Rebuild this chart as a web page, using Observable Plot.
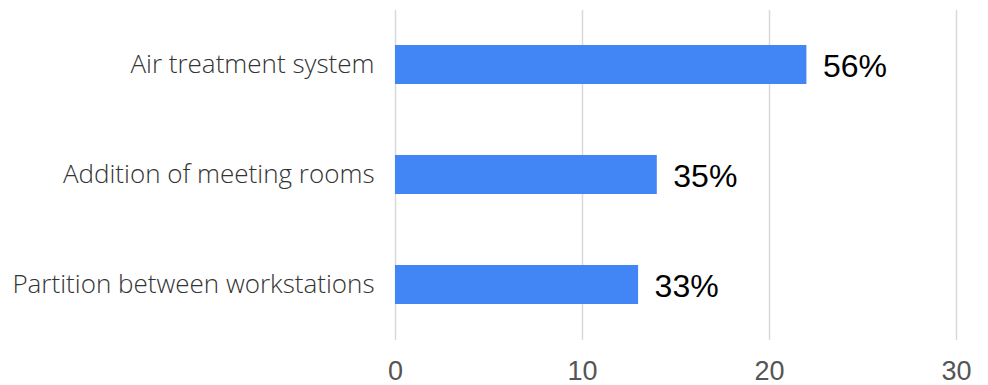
<!DOCTYPE html>
<html>
<head>
<meta charset="utf-8">
<script src="https://cdn.jsdelivr.net/npm/d3@7"></script>
<script src="https://cdn.jsdelivr.net/npm/@observablehq/plot@0.6"></script>
<style>
  html, body { margin: 0; padding: 0; background: #fff; }
  #chart svg { display: block; }
</style>
</head>
<body>
<div id="chart"></div>
<script>
const categories = ["Air treatment system", "Addition of meeting rooms", "Partition between workstations"];
const values = [22, 14, 13];
const valueLabels = ["56%", "35%", "33%"];
const xTicks = [0, 10, 20, 30];

const data = categories.map((c, i) => ({category: c, value: values[i], label: valueLabels[i]}));

const chart = Plot.plot({
  width: 988,
  height: 385,
  marginLeft: 395,
  marginRight: 32,
  marginTop: 10,
  marginBottom: 45,
  style: {fontFamily: "'Open Sans', sans-serif", background: "#fff"},
  x: {domain: [0, 30], axis: null},
  y: {domain: categories, paddingInner: 0.645, paddingOuter: 0.32, axis: null},
  marks: [
    Plot.ruleX(xTicks, {stroke: "#d9d9d9", strokeWidth: 1.5}),
    Plot.barX(data, {x: "value", y: "category", fill: "#4285f4"}),
    Plot.axisY({tickSize: 0, tickPadding: 21, label: null, fontSize: 26, fill: "#333", fontFamily: "'Open Sans', sans-serif", fontWeight: 300}),
    Plot.axisX(xTicks, {tickSize: 0, tickPadding: 20, label: null, fontSize: 27, fill: "#555", fontFamily: "'Liberation Sans', Arial, sans-serif"}),
    Plot.text(data, {x: "value", y: "category", text: "label", textAnchor: "start", dx: 16, dy: 2, fontSize: 32, fill: "#000", fontFamily: "'Liberation Sans', Arial, sans-serif"})
  ]
});
document.getElementById("chart").appendChild(chart);
</script>
</body>
</html>
